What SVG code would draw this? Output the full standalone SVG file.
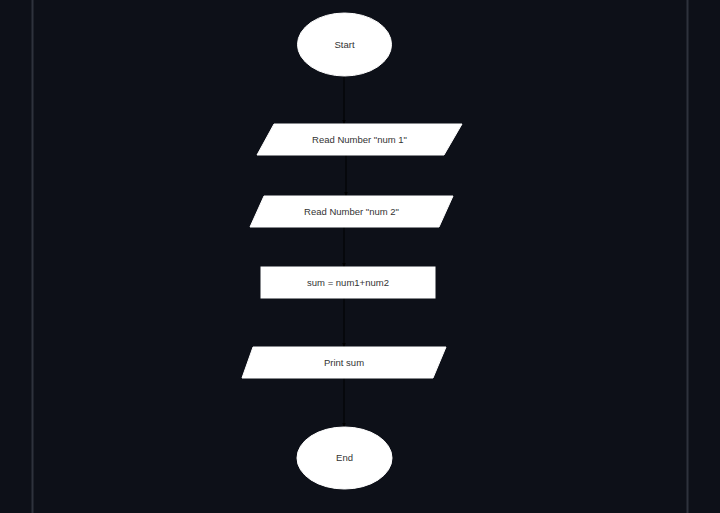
<svg xmlns="http://www.w3.org/2000/svg" width="720" height="513" viewBox="0 0 720 513">
<defs>
<style>
.shape{fill:#ffffff;stroke:#ffffff;stroke-width:1}
.lbl{font-family:"Liberation Sans",Arial,sans-serif;font-size:9.5px;fill:#333333;text-anchor:middle;dominant-baseline:central}
.edge{stroke:#000000;stroke-width:1;fill:none;marker-end:url(#arr)}
</style>
<marker id="arr" viewBox="0 0 10 10" refX="9" refY="5" markerWidth="5" markerHeight="5" orient="auto">
<path d="M0,1 L10,5 L0,9 z" fill="#000000"/>
</marker>
</defs>
<rect width="720" height="513" fill="#0d1018"/>
<line x1="32.5" y1="0" x2="32.5" y2="513" stroke="#2e323c" stroke-width="2"/>
<line x1="687.5" y1="0" x2="687.5" y2="513" stroke="#2e323c" stroke-width="2"/>
<g id="connectors">
<line class="edge" x1="344" y1="76" x2="344" y2="124"/>
<line class="edge" x1="346" y1="155" x2="346" y2="196"/>
<line class="edge" x1="344" y1="227" x2="344" y2="267"/>
<line class="edge" x1="344" y1="298" x2="344" y2="347"/>
<line class="edge" x1="344" y1="378" x2="344" y2="427"/>
</g>
<g id="start">
<ellipse class="shape" cx="344.5" cy="44.5" rx="47" ry="31.5"/>
<text class="lbl" x="344.5" y="44.5">Start</text>
</g>
<g id="read1">
<polygon class="shape" points="274,124 462,124 444,155 257,155"/>
<text class="lbl" x="359.5" y="139.5">Read Number "num 1"</text>
</g>
<g id="read2">
<polygon class="shape" points="264,196 453,196 439,227 250,227"/>
<text class="lbl" x="351.5" y="211.5">Read Number "num 2"</text>
</g>
<g id="process">
<rect class="shape" x="261" y="267" width="174" height="31"/>
<text class="lbl" x="348" y="282.5">sum = num1+num2</text>
</g>
<g id="print">
<polygon class="shape" points="253,347 446,347 433,378 242,378"/>
<text class="lbl" x="344" y="362">Print sum</text>
</g>
<g id="end">
<ellipse class="shape" cx="344.5" cy="458" rx="47.5" ry="31"/>
<text class="lbl" x="344.5" y="457.5">End</text>
</g>
</svg>
